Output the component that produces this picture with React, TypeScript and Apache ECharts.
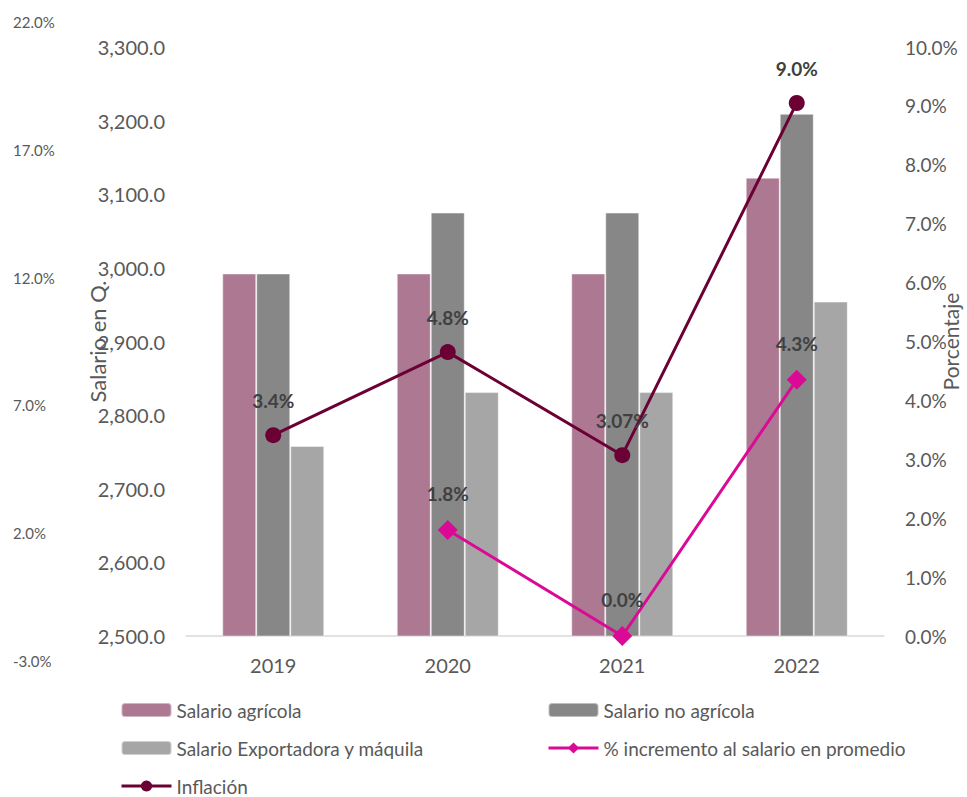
import React, { useEffect, useRef } from "react";
import * as echarts from "echarts";

const years = ["2019", "2020", "2021", "2022"];
const salarioAgricola = [2992.37, 2992.37, 2992.37, 3122.55];
const salarioNoAgricola = [2992.37, 3075.1, 3075.1, 3209.24];
const salarioExportadora = [2758.16, 2831.28, 2831.28, 2954.26];
const incremento = [null, 1.8, 0.0, 4.35];
const incrementoLabels = ["", "1.8%", "0.0%", "4.3%"];
const inflacion = [3.41, 4.82, 3.07, 9.05];
const inflacionLabels = ["3.4%", "4.8%", "3.07%", "9.0%"];

const FONT = "Lato";
const GRAY_TEXT = "#595959";

export default function App() {
  const ref = useRef<HTMLDivElement>(null);
  useEffect(() => {
    const chart = echarts.init(ref.current!, null, { renderer: "svg" });
    const barBorder = { borderColor: "rgba(255,255,255,0.45)", borderWidth: 1 };
    const legendCommon = {
      orient: "vertical",
      top: 700,
      padding: 0,
      height: 120,
      itemWidth: 50,
      itemHeight: 14,
      itemGap: 18,
      lineStyle: { width: 3 },
      textStyle: { color: GRAY_TEXT, fontSize: 19, fontFamily: FONT, lineHeight: 20 },
    };
    const option: any = {
      animation: false,
      backgroundColor: "#ffffff",
      textStyle: { fontFamily: FONT },
      grid: [
        { left: 186, right: 83, top: 47, bottom: 161, outerBoundsMode: "none", containLabel: false },
        { left: 60, right: 83, top: 22, bottom: 136, outerBoundsMode: "none", containLabel: false },
      ],
      xAxis: [
        {
          type: "category",
          data: years,
          gridIndex: 0,
          axisLine: { show: true, lineStyle: { color: "#D9D9D9", width: 1.5 } },
          axisTick: { show: false },
          axisLabel: { color: GRAY_TEXT, fontSize: 20, fontFamily: FONT, margin: 19 },
        },
        {
          type: "category",
          data: years,
          gridIndex: 1,
          show: false,
        },
      ],
      yAxis: [
        {
          type: "value",
          gridIndex: 0,
          min: 2500,
          max: 3300,
          interval: 100,
          position: "left",
          splitLine: { show: false },
          axisLine: { show: false },
          axisTick: { show: false },
          axisLabel: {
            color: GRAY_TEXT,
            fontSize: 20,
            fontFamily: FONT,
            margin: 21,
            formatter: (v: number) =>
              v.toLocaleString("en-US", { minimumFractionDigits: 1, maximumFractionDigits: 1 }),
          },
          name: "Salario en Q.",
          nameLocation: "middle",
          nameRotate: 90,
          nameGap: 78,
          nameMoveOverlap: false,
          nameTextStyle: { color: GRAY_TEXT, fontSize: 22, fontFamily: FONT },
        },
        {
          type: "value",
          gridIndex: 0,
          min: 0,
          max: 10,
          interval: 1,
          position: "right",
          splitLine: { show: false },
          axisLine: { show: false },
          axisTick: { show: false },
          axisLabel: {
            color: GRAY_TEXT,
            fontSize: 19,
            fontFamily: FONT,
            margin: 21,
            formatter: (v: number) => v.toFixed(1) + "%",
          },
          name: "Porcentaje",
          nameLocation: "middle",
          nameRotate: 90,
          nameGap: 56,
          nameMoveOverlap: false,
          nameTextStyle: { color: GRAY_TEXT, fontSize: 21, fontFamily: FONT },
        },
        {
          type: "value",
          gridIndex: 1,
          min: -3,
          max: 22,
          interval: 5,
          position: "left",
          splitLine: { show: false },
          axisLine: { show: false },
          axisTick: { show: false },
          axisLabel: {
            color: GRAY_TEXT,
            fontSize: 15,
            fontFamily: FONT,
            margin: 47,
            align: "left",
            formatter: (v: number) => v.toFixed(1) + "%",
          },
        },
      ],
      legend: [
        {
          ...legendCommon,
          left: 120,
          data: ["Salario agrícola", "Salario Exportadora y máquila", "Inflación"],
        },
        {
          ...legendCommon,
          left: 547,
          data: ["Salario no agrícola", "% incremento al salario en promedio"],
        },
      ],
      series: [
        {
          name: "Salario agrícola",
          type: "bar",
          xAxisIndex: 0,
          yAxisIndex: 0,
          data: salarioAgricola,
          barWidth: 34,
          barGap: "0%",
          itemStyle: { color: "#AD7891", ...barBorder },
        },
        {
          name: "Salario no agrícola",
          type: "bar",
          xAxisIndex: 0,
          yAxisIndex: 0,
          data: salarioNoAgricola,
          barWidth: 34,
          barGap: "0%",
          itemStyle: { color: "#878787", ...barBorder },
        },
        {
          name: "Salario Exportadora y máquila",
          type: "bar",
          xAxisIndex: 0,
          yAxisIndex: 0,
          data: salarioExportadora,
          barWidth: 34,
          barGap: "0%",
          itemStyle: { color: "#A6A6A6", ...barBorder },
        },
        {
          name: "% incremento al salario en promedio",
          type: "line",
          xAxisIndex: 0,
          yAxisIndex: 1,
          data: incremento,
          z: 5,
          symbol: "diamond",
          symbolSize: 20,
          showAllSymbol: true,
          lineStyle: { color: "#DB0A96", width: 3 },
          itemStyle: { color: "#DB0A96" },
          label: {
            show: true,
            position: "top",
            distance: 17,
            color: "#404040",
            fontSize: 19,
            fontWeight: "bold",
            fontFamily: FONT,
            formatter: (p: any) => incrementoLabels[p.dataIndex],
          },
        },
        {
          name: "Inflación",
          type: "line",
          xAxisIndex: 0,
          yAxisIndex: 1,
          data: inflacion,
          z: 6,
          symbol: "circle",
          symbolSize: 16,
          showAllSymbol: true,
          lineStyle: { color: "#6B0035", width: 3 },
          itemStyle: { color: "#6B0035" },
          label: {
            show: true,
            position: "top",
            distance: 17,
            color: "#404040",
            fontSize: 19,
            fontWeight: "bold",
            fontFamily: FONT,
            formatter: (p: any) => inflacionLabels[p.dataIndex],
          },
        },
      ],
    };
    chart.setOption(option);
    return () => chart.dispose();
  }, []);
  return (
    <div
      ref={ref}
      style={{ position: "fixed", left: 0, top: 0, width: 967, height: 797, background: "#fff" }}
    />
  );
}
